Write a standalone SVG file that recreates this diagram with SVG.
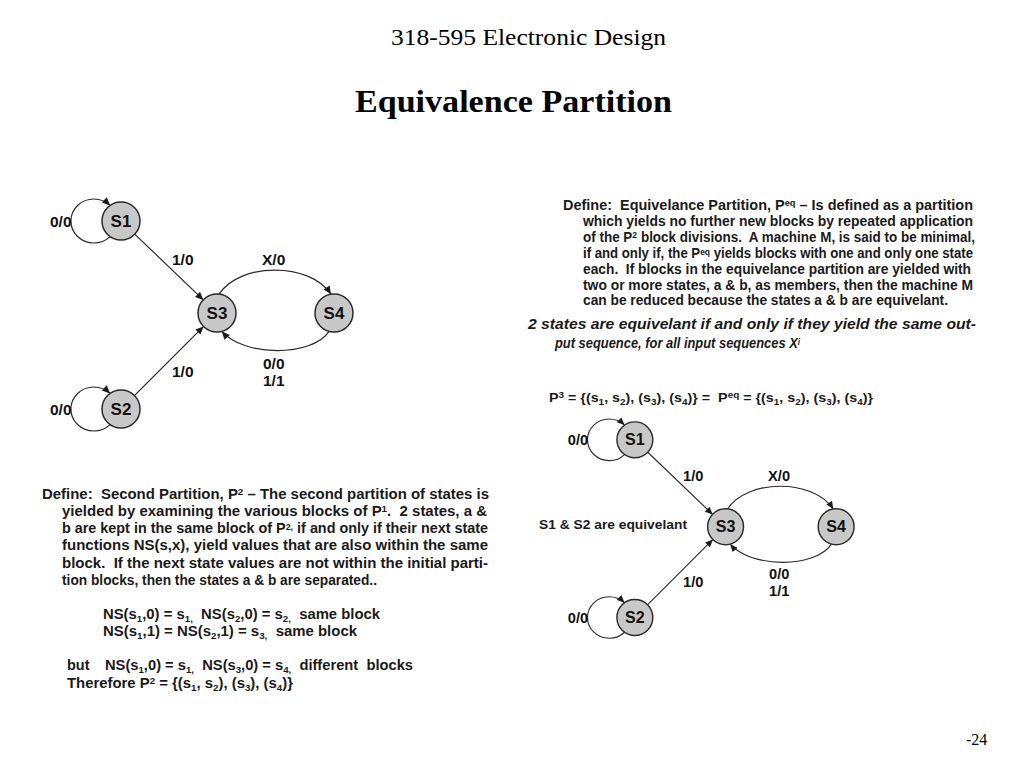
<svg xmlns="http://www.w3.org/2000/svg" width="1024" height="768" viewBox="0 0 1024 768">
<style>
.bg{fill:#ffffff}
.title{font-family:"Liberation Serif","Times New Roman",serif;fill:#000}
.txt{font-family:"Liberation Sans",Arial,Helvetica,sans-serif;font-weight:bold;fill:#1a1a1a}
.it{font-style:italic}
.st{fill:#c8c8c8;stroke:#2a2a2a;stroke-width:1.5}
.sl{font-family:"Liberation Sans",Arial,sans-serif;font-weight:bold;font-size:17px;fill:#111;text-anchor:middle}
.el{font-family:"Liberation Sans",Arial,sans-serif;font-weight:bold;font-size:15.5px;fill:#111}
.e{fill:none;stroke:#2a2a2a;stroke-width:1.2;marker-end:url(#ah)}
</style>
<defs>
<marker id="ah" viewBox="0 0 10 10" refX="10" refY="5" markerWidth="9" markerHeight="8" markerUnits="userSpaceOnUse" orient="auto">
<path d="M0,0.5 L10,5 L0,9.5 z" fill="#1a1a1a"/>
</marker>
</defs>
<rect class="bg" x="0" y="0" width="1024" height="768"/>

<text class="title" x="391" y="45" font-size="23" textLength="275" lengthAdjust="spacingAndGlyphs">318-595 Electronic Design</text>
<text class="title" x="355" y="112" font-size="31" font-weight="bold" textLength="317" lengthAdjust="spacingAndGlyphs">Equivalence Partition</text>
<text class="title" x="966" y="745" font-size="16">-24</text>

<!-- Diagram 1 -->
<g id="diagram1">
<g id="d1-connectors">
<path class="e" d="M110.1,236.6 A23,22 0 1 1 110.1,205.4"/>
<path class="e" d="M110.1,424.6 A23,22 0 1 1 110.1,393.4"/>
<path class="e" d="M134.7,234.1 L203.3,299.9"/>
<path class="e" d="M134.4,395.6 L203.6,326.4"/>
<path class="e" d="M219,294.2 C240,262 310,262 331,294.2"/>
<path class="e" d="M329.1,331.4 C312,357 244,357 221.9,331.4"/>
<text class="el" x="50" y="226.5">0/0</text>
<text class="el" x="172" y="264.5">1/0</text>
<text class="el" x="262" y="264.5">X/0</text>
<text class="el" x="263" y="368.5">0/0</text>
<text class="el" x="263" y="386">1/1</text>
<text class="el" x="172" y="377">1/0</text>
<text class="el" x="50" y="414.5">0/0</text>
</g>
<g id="d1-S1"><circle class="st" cx="121" cy="221" r="19"/><text class="sl" x="121" y="227">S1</text></g>
<g id="d1-S3"><circle class="st" cx="217" cy="313" r="19"/><text class="sl" x="217" y="319">S3</text></g>
<g id="d1-S4"><circle class="st" cx="334" cy="313" r="19"/><text class="sl" x="334" y="319">S4</text></g>
<g id="d1-S2"><circle class="st" cx="121" cy="409" r="19"/><text class="sl" x="121" y="415">S2</text></g>
</g>

<!-- Right text block -->
<g id="equiv-text" class="txt" font-size="14">
<text x="563" y="210" textLength="410" lengthAdjust="spacingAndGlyphs">Define:&#160; Equivelance Partition, P<tspan dy="-4" font-size="9">eq</tspan><tspan dy="4"> – Is defined as a partition</tspan></text>
<text x="583" y="226" textLength="390" lengthAdjust="spacingAndGlyphs">which yields no further new blocks by repeated application</text>
<text x="583" y="242" textLength="392" lengthAdjust="spacingAndGlyphs">of the P<tspan dy="-4" font-size="9">2</tspan><tspan dy="4"> block divisions.&#160; A machine M, is said to be minimal,</tspan></text>
<text x="583" y="258" textLength="390" lengthAdjust="spacingAndGlyphs">if and only if, the P<tspan dy="-3" font-size="9">eq</tspan><tspan dy="3"> yields blocks with one and only one state</tspan></text>
<text x="583" y="274" textLength="388" lengthAdjust="spacingAndGlyphs">each.&#160; If blocks in the equivelance partition are yielded with</text>
<text x="583" y="290" textLength="390" lengthAdjust="spacingAndGlyphs">two or more states, a &amp; b, as members, then the machine M</text>
<text x="583" y="305" textLength="365" lengthAdjust="spacingAndGlyphs">can be reduced because the states a &amp; b are equivelant.</text>
<text class="it" x="528" y="329" font-size="15" textLength="448" lengthAdjust="spacingAndGlyphs">2 states are equivelant if and only if they yield the same out-</text>
<text class="it" x="555" y="348" font-size="14.5" textLength="245" lengthAdjust="spacingAndGlyphs">put sequence, for all input sequences X<tspan dy="-3.5" font-size="9">i</tspan></text>
</g>

<!-- P3 line -->
<text class="txt" x="549" y="402" font-size="13" textLength="324" lengthAdjust="spacingAndGlyphs">P<tspan dy="-4" font-size="9">3</tspan><tspan dy="4"> = {(s</tspan><tspan dy="3" font-size="9">1</tspan><tspan dy="-3">, s</tspan><tspan dy="3" font-size="9">2</tspan><tspan dy="-3">), (s</tspan><tspan dy="3" font-size="9">3</tspan><tspan dy="-3">), (s</tspan><tspan dy="3" font-size="9">4</tspan><tspan dy="-3">)} =&#160; P</tspan><tspan dy="-4" font-size="9">eq</tspan><tspan dy="4"> = {(s</tspan><tspan dy="3" font-size="9">1</tspan><tspan dy="-3">, s</tspan><tspan dy="3" font-size="9">2</tspan><tspan dy="-3">), (s</tspan><tspan dy="3" font-size="9">3</tspan><tspan dy="-3">), (s</tspan><tspan dy="3" font-size="9">4</tspan><tspan dy="-3">)}</tspan></text>

<!-- Diagram 2 -->
<g id="diagram2" transform="translate(520.5,231) scale(0.945)">
<g id="d2-connectors">
<path class="e" d="M110.1,236.6 A23,22 0 1 1 110.1,205.4"/>
<path class="e" d="M110.1,424.6 A23,22 0 1 1 110.1,393.4"/>
<path class="e" d="M134.7,234.1 L203.3,299.9"/>
<path class="e" d="M134.4,395.6 L203.6,326.4"/>
<path class="e" d="M219,294.2 C240,262 310,262 331,294.2"/>
<path class="e" d="M329.1,331.4 C312,357 244,357 221.9,331.4"/>
<text class="el" x="50" y="226.5">0/0</text>
<text class="el" x="172" y="264.5">1/0</text>
<text class="el" x="262" y="264.5">X/0</text>
<text class="el" x="263" y="368.5">0/0</text>
<text class="el" x="263" y="386">1/1</text>
<text class="el" x="172" y="377">1/0</text>
<text class="el" x="50" y="414.5">0/0</text>
</g>
<g id="d2-S1"><circle class="st" cx="121" cy="221" r="19"/><text class="sl" x="121" y="227">S1</text></g>
<g id="d2-S3"><circle class="st" cx="217" cy="313" r="19"/><text class="sl" x="217" y="319">S3</text></g>
<g id="d2-S4"><circle class="st" cx="334" cy="313" r="19"/><text class="sl" x="334" y="319">S4</text></g>
<g id="d2-S2"><circle class="st" cx="121" cy="409" r="19"/><text class="sl" x="121" y="415">S2</text></g>
</g>
<text class="txt" x="539" y="529" font-size="13" textLength="148" lengthAdjust="spacingAndGlyphs">S1 &amp; S2 are equivelant</text>

<!-- Bottom-left text block -->
<g id="second-partition-text" class="txt" font-size="14.5">
<text x="42" y="499" textLength="447" lengthAdjust="spacingAndGlyphs">Define:&#160; Second Partition, P<tspan dy="-4" font-size="9.5">2</tspan><tspan dy="4"> – The second partition of states is</tspan></text>
<text x="62" y="516" textLength="425" lengthAdjust="spacingAndGlyphs">yielded by examining the various blocks of P<tspan dy="-4" font-size="9.5">1</tspan><tspan dy="4">.&#160; 2 states, a &amp;</tspan></text>
<text x="62" y="533" textLength="426" lengthAdjust="spacingAndGlyphs">b are kept in the same block of P<tspan dy="-3" font-size="9">2,</tspan><tspan dy="3"> if and only if their next state</tspan></text>
<text x="62" y="550" textLength="426" lengthAdjust="spacingAndGlyphs">functions NS(s,x), yield values that are also within the same</text>
<text x="62" y="567.5" textLength="426" lengthAdjust="spacingAndGlyphs">block.&#160; If the next state values are not within the initial parti-</text>
<text x="62" y="585" textLength="315" lengthAdjust="spacingAndGlyphs">tion blocks, then the states a &amp; b are separated..</text>
<text x="103" y="619" textLength="277" lengthAdjust="spacingAndGlyphs">NS(s<tspan dy="3" font-size="9.5">1</tspan><tspan dy="-3">,0) = s</tspan><tspan dy="3" font-size="9.5">1,</tspan><tspan dy="-3">&#160; NS(s</tspan><tspan dy="3" font-size="9.5">2</tspan><tspan dy="-3">,0) = s</tspan><tspan dy="3" font-size="9.5">2,</tspan><tspan dy="-3">&#160; same block</tspan></text>
<text x="103" y="636" textLength="254" lengthAdjust="spacingAndGlyphs">NS(s<tspan dy="3" font-size="9.5">1</tspan><tspan dy="-3">,1) = NS(s</tspan><tspan dy="3" font-size="9.5">2</tspan><tspan dy="-3">,1) = s</tspan><tspan dy="3" font-size="9.5">3,</tspan><tspan dy="-3">&#160; same block</tspan></text>
<text x="67" y="670">but</text>
<text x="105" y="670" textLength="308" lengthAdjust="spacingAndGlyphs">NS(s<tspan dy="3" font-size="9.5">1</tspan><tspan dy="-3">,0) = s</tspan><tspan dy="3" font-size="9.5">1,</tspan><tspan dy="-3">&#160; NS(s</tspan><tspan dy="3" font-size="9.5">3</tspan><tspan dy="-3">,0) = s</tspan><tspan dy="3" font-size="9.5">4,</tspan><tspan dy="-3">&#160; different&#160; blocks</tspan></text>
<text x="67" y="688" textLength="226" lengthAdjust="spacingAndGlyphs">Therefore P<tspan dy="-4" font-size="9.5">2</tspan><tspan dy="4"> = {(s</tspan><tspan dy="3" font-size="9.5">1</tspan><tspan dy="-3">, s</tspan><tspan dy="3" font-size="9.5">2</tspan><tspan dy="-3">), (s</tspan><tspan dy="3" font-size="9.5">3</tspan><tspan dy="-3">), (s</tspan><tspan dy="3" font-size="9.5">4</tspan><tspan dy="-3">)}</tspan></text>
</g>
</svg>
